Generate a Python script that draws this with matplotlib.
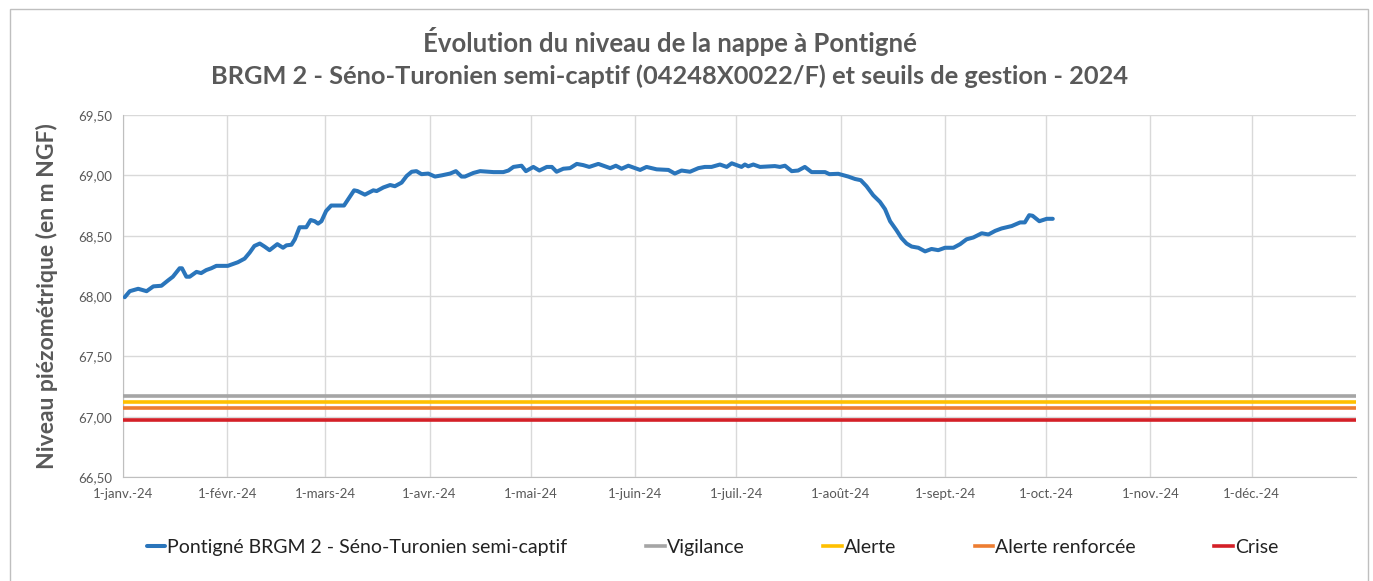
import matplotlib
matplotlib.use("Agg")
import matplotlib.pyplot as plt
from matplotlib.patches import Rectangle
import numpy as np
import pandas as pd

# --- data (day offset from 1 Jan 2024, level in m NGF) ---
days = [0.5, 2, 4.5, 7, 9, 11.4, 13.4, 14.8, 16.8, 17.5, 18.8, 19.8, 21.8, 23.2,
        24.7, 26.2, 27.7, 31.1, 34.1, 36.1, 37.6, 39, 40.6, 42, 43.5, 45.8, 47.5,
        48.5, 50, 51, 52.4, 54.4, 55.7, 56.9, 57.9, 58.9, 60.3, 61.8, 65.6, 66.8,
        68.6, 69.6, 71.8, 74.3, 75.3, 77.3, 79.3, 80.7, 82.7, 84.2, 85.7, 87.1,
        88.6, 90.6, 92.6, 94.6, 97.1, 98.8, 100.5, 101.5, 104, 106, 110, 112.9,
        114.4, 115.9, 118.3, 119.6, 121.8, 123.6, 125.8, 127.3, 128.7, 130.7,
        132.7, 134.7, 136.6, 138.4, 141.1, 144.6, 146.3, 148, 150, 153.5, 155.4,
        158.4, 161.9, 163.8, 165.8, 168.3, 170.8, 172.7, 174.7, 177.2, 179.2,
        180.7, 183.6, 184.6, 185.6, 187.1, 189.1, 193.5, 195, 196.5, 198.5, 200.4,
        202.4, 204.4, 208.4, 209.7, 212.3, 215.3, 217.3, 219, 220.7, 222.7, 224.7,
        226.2, 227.7, 229.6, 231.1, 232.6, 234.1, 236.1, 238.1, 240, 242, 244,
        246.5, 248.5, 250.4, 252.4, 254.9, 256.9, 258.9, 260.8, 263.8, 266.3,
        267.7, 269, 270, 272, 274.2, 276]
level = [67.99, 68.04, 68.06, 68.04, 68.08, 68.085, 68.13, 68.16, 68.23, 68.23,
         68.16, 68.16, 68.20, 68.19, 68.215, 68.23, 68.25, 68.25, 68.28, 68.31,
         68.36, 68.415, 68.435, 68.41, 68.38, 68.43, 68.40, 68.42, 68.425, 68.47,
         68.57, 68.57, 68.63, 68.62, 68.60, 68.62, 68.705, 68.75, 68.75, 68.80,
         68.876, 68.87, 68.84, 68.876, 68.87, 68.90, 68.92, 68.91, 68.94, 68.995,
         69.03, 69.035, 69.01, 69.015, 68.99, 69.00, 69.015, 69.035, 68.99, 68.99,
         69.02, 69.035, 69.027, 69.027, 69.04, 69.07, 69.08, 69.035, 69.07, 69.04,
         69.07, 69.07, 69.03, 69.055, 69.06, 69.095, 69.085, 69.07, 69.095, 69.06,
         69.08, 69.055, 69.08, 69.045, 69.07, 69.05, 69.045, 69.015, 69.04, 69.03,
         69.06, 69.07, 69.07, 69.09, 69.07, 69.10, 69.07, 69.09, 69.075, 69.09,
         69.07, 69.077, 69.07, 69.08, 69.035, 69.04, 69.07, 69.027, 69.027, 69.01,
         69.013, 68.99, 68.97, 68.96, 68.91, 68.835, 68.78, 68.72, 68.62, 68.545,
         68.48, 68.435, 68.41, 68.40, 68.37, 68.39, 68.38, 68.40, 68.40, 68.43,
         68.47, 68.485, 68.52, 68.51, 68.54, 68.56, 68.58, 68.61, 68.61, 68.67,
         68.665, 68.62, 68.64, 68.64]

seuil_names = ["Vigilance", "Alerte", "Alerte renforcée", "Crise"]
seuil_values = [67.17, 67.12, 67.07, 66.97]
seuil_colors = ["#A5A5A5", "#FFC000", "#ED7D31", "#D42027"]

series_name = "Pontigné BRGM 2 - Séno-Turonien semi-captif"
month_labels = ["1-janv.-24", "1-févr.-24", "1-mars-24", "1-avr.-24", "1-mai-24",
                "1-juin-24", "1-juil.-24", "1-août-24", "1-sept.-24", "1-oct.-24",
                "1-nov.-24", "1-déc.-24"]

start = pd.Timestamp("2024-01-01")
end = pd.Timestamp("2025-01-01")
dates = start + pd.to_timedelta(days, unit="D")

plt.rcParams["font.family"] = ["Lato", "DejaVu Sans"]
grey = "#595959"

fig = plt.figure(figsize=(13.73, 5.81), dpi=100)
ax = fig.add_axes([0.0896, 0.179, 0.898, 0.623])

ax.plot(dates, level, color="#2A75BB", lw=2.9, label=series_name, zorder=5,
        solid_joinstyle="round", solid_capstyle="round")
for name, val, col in zip(seuil_names, seuil_values, seuil_colors):
    ax.plot([start, end], [val, val], color=col, lw=2.6, label=name, zorder=4)

ax.set_xlim(start, end)
ax.set_ylim(66.5, 69.5)
ticks = pd.date_range("2024-01-01", "2024-12-01", freq="MS")
ax.set_xticks(ticks)
ax.set_xticklabels(month_labels)
yt = np.arange(66.5, 69.51, 0.5)
ax.set_yticks(yt)
ax.set_yticklabels([f"{v:.2f}".replace(".", ",") for v in yt])
ax.tick_params(length=0, labelsize=9.5, colors=grey, pad=8)

ax.grid(True, color="#D9D9D9", lw=1)
ax.set_axisbelow(True)
for s in ["top", "right"]:
    ax.spines[s].set_visible(False)
for s in ["left", "bottom"]:
    ax.spines[s].set_color("#BFBFBF")

ax.set_ylabel("Niveau piézométrique (en m NGF)", fontsize=16.5, fontweight="bold",
              color=grey, labelpad=14)

fig.text(0.488, 0.928, "Évolution du niveau de la nappe à Pontigné", ha="center",
         va="center", fontsize=18.5, fontweight="bold", color=grey)
fig.text(0.488, 0.869, "BRGM 2 - Séno-Turonien semi-captif (04248X0022/F) et seuils de gestion - 2024",
         ha="center", va="center", fontsize=18.3, fontweight="bold", color=grey)

leg = fig.legend(loc="center", bbox_to_anchor=(0.519, 0.058), ncol=5, frameon=False,
                 fontsize=14, handlelength=0.95, handletextpad=0.1,
                 columnspacing=4.05)
for t in leg.get_texts():
    t.set_color("#222222")

fig.patches.append(Rectangle((10 / 1373, -0.05), 1358 / 1373, 1.05 - 9 / 581,
                             transform=fig.transFigure, fill=False,
                             edgecolor="#BFBFBF", lw=1))

fig.savefig("out.png", dpi=100)
